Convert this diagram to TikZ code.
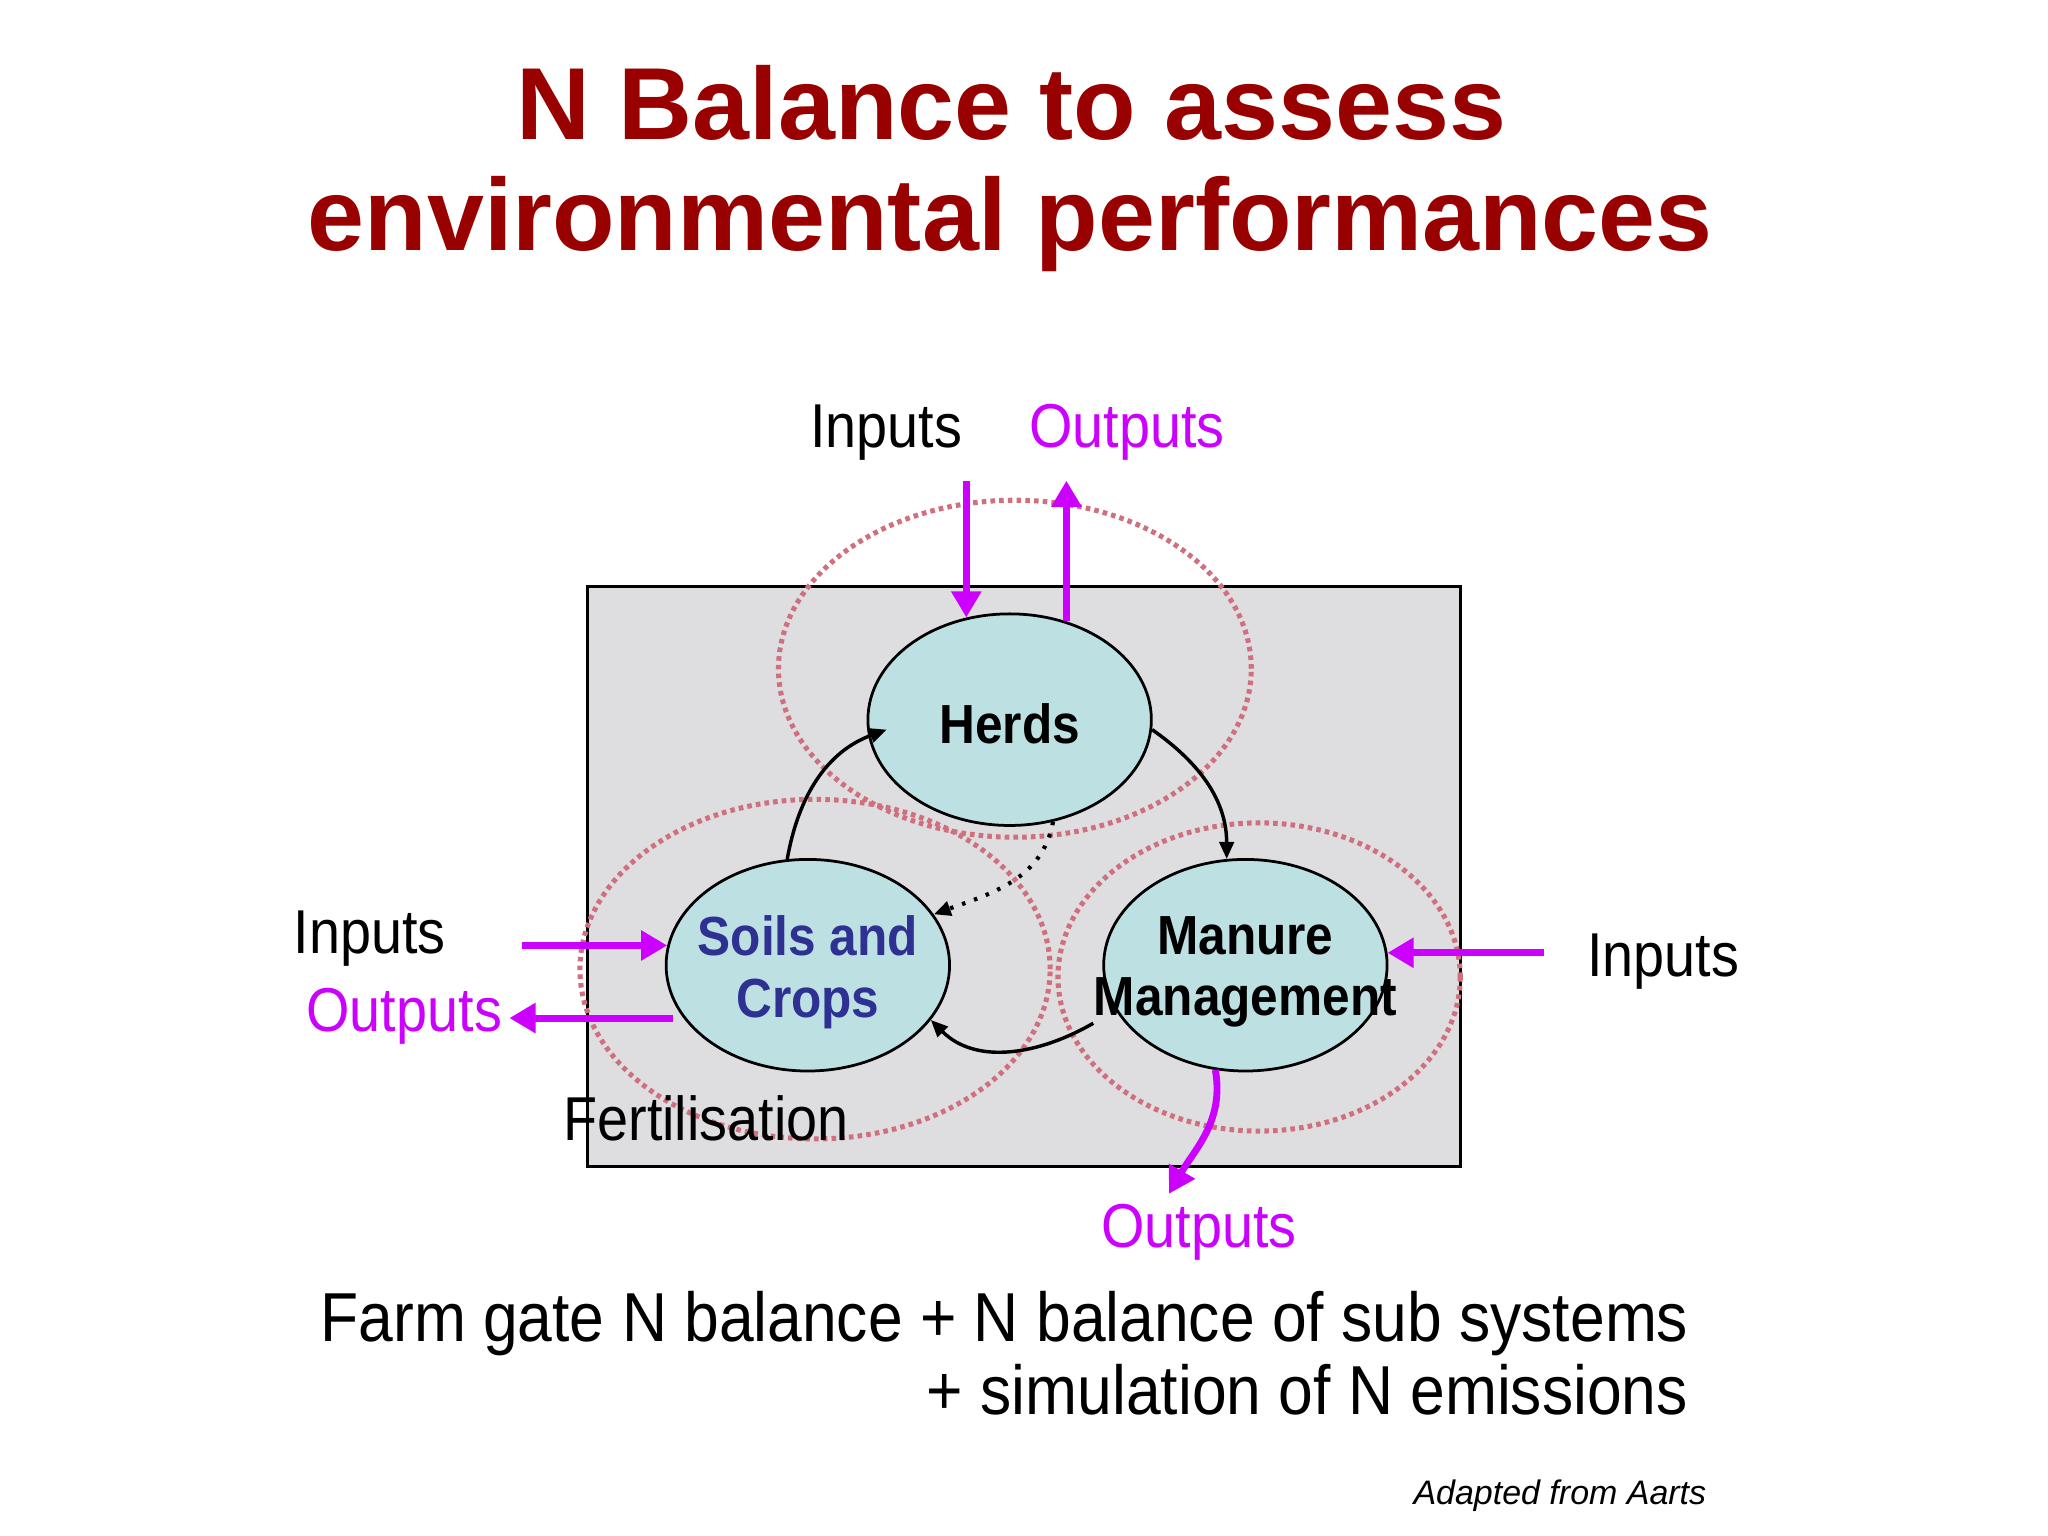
\documentclass[tikz,border=0pt]{standalone}
\usepackage{fontspec}
\setmainfont{Liberation Sans}
\newfontfamily\narrowsf[FakeStretch=0.9]{Liberation Sans}
\usepackage{xcolor}
\usepackage{tikz}
\usetikzlibrary{arrows.meta}
\usetikzlibrary{calc}
\usetikzlibrary{positioning}
\usetikzlibrary{shapes.geometric}
\definecolor{titlered}{HTML}{990000}
\definecolor{flowpink}{HTML}{CC00FF}
\definecolor{cellfill}{HTML}{BDE0E3}
\definecolor{boxgray}{HTML}{DEDDDF}
\definecolor{ringpink}{HTML}{D0707F}
\definecolor{soilsblue}{HTML}{2E3192}

\begin{document}
\begin{tikzpicture}
      \tikzset{
        unit/.style={ellipse, draw=black, line width=0.6pt, fill=cellfill,
            minimum width=2.17cm, minimum height=1.62cm, inner sep=0pt},
        unit text/.style={font=\narrowsf\bfseries\fontsize{12}{13.4}\selectfont, align=center},
        ring/.style={draw=ringpink, line width=1.1pt, dash pattern=on 1pt off 0.9pt},
        flow/.style={draw=flowpink, line width=1.5pt, -{Triangle[length=0.2cm,width=0.22cm]}},
        link/.style={line width=0.75pt, -{Triangle[length=0.13cm,width=0.11cm]}},
        tag/.style={font=\narrowsf\fontsize{13.5}{16}\selectfont, anchor=base, inner sep=0pt}
      }

      \fill[white] (0,0) rectangle (15.68,-11.76);
      \useasboundingbox (0,0) rectangle (15.68,-11.76);

      % Title
      \node[anchor=base, text=titlered, font=\bfseries\fontsize{22.3}{26}\selectfont] (T1) at (7.745,-1.07) {N Balance to assess};
      \node[anchor=base, text=titlered, font=\bfseries\fontsize{22.3}{26}\selectfont] (T2) at (7.735,-1.92) {environmental performances};

      \draw[fill=boxgray, line width=0.7pt] (4.50,-4.49) rectangle (11.18,-8.93); % farm gate

      % Sub systems
      \draw[ring] (7.77,-5.12) ellipse (1.81 and 1.29);
      \draw[ring] (6.24,-7.42) ellipse (1.80 and 1.30);
      \draw[ring] (9.64,-7.48) ellipse (1.54 and 1.18);

      \node[unit] (H) at (7.73,-5.51) {};
      \node[unit] (S) at (6.185,-7.39) {};
      \node[unit] (M) at (9.535,-7.39) {};
      \node[unit text] (Ht) at ([yshift=-1pt]H.center) {Herds};
      \node[unit text, text=soilsblue] (St) at ([yshift=-1.5pt]S.center) {Soils and\\Crops};
      \node[unit text] (Mt) at ([yshift=-1.5pt]M.center) {Manure\\Management};

      % Flows inside the farm
      \draw[link] (S.101) to[out=80, in=200] ([xshift=0.15cm]H.184);
      \draw[link] (H.-4) to[out=-35, in=90] (M.100);
      \draw[link, dotted, line width=0.9pt] (H.-67) to[out=-100, in=20] (S.22);
      \draw[link] ([shift={(-0.19,-0.07)}]M.201) to[out=-150, in=-45] (S.-24);

      % Inputs and outputs
      \coordinate (topin) at (7.39,-3.68);
      \coordinate (topout) at (8.17,-3.68);
      \coordinate (leftin) at (4.00,-7.23);
      \coordinate (leftout) at (3.90,-7.79);
      \coordinate (rightin) at (11.82,-7.30);
      \coordinate (botout) at (8.95,-9.14);

      \draw[flow] (H.113 |- topin) -- (H.113);
      \draw[flow] (H.60) -- (H.60 |- topout);
      \draw[flow] (S.172 -| leftin) -- (S.172);
      \draw[flow] ([xshift=-0.08cm]S.203) -- (S.203 -| leftout);
      \draw[flow] (M.5 -| rightin) -- (M.5);
      \draw[flow] (M.-106) to[out=-80, in=60] (botout);

      \node[tag] (inH) at (6.785,-3.43) {Inputs};
      \node[tag, text=flowpink] (outH) at (8.63,-3.43) {Outputs};
      \node[tag] (inS) at (2.83,-7.30) {Inputs};
      \node[tag, text=flowpink] (outS) at (3.095,-7.90) {Outputs};
      \node[tag] (inM) at (12.735,-7.48) {Inputs};
      \node[tag, text=flowpink] (outM) at (9.18,-9.55) {Outputs};
      \node[tag] (fert) at (5.405,-8.73) {Fertilisation};

      % Caption
      \node[anchor=base, inner sep=0pt, font=\narrowsf\fontsize{15.1}{18}\selectfont] (gate) at (7.69,-10.27) {Farm gate N balance + N balance of sub systems};
      \node[anchor=base east, inner sep=0pt, font=\narrowsf\fontsize{15.1}{18}\selectfont] (sim) at (12.93,-10.83) {+ simulation of N emissions};
      \node[anchor=base east, inner sep=0pt, font=\itshape\fontsize{7.4}{8}\selectfont] (src) at (13.07,-11.52) {Adapted from Aarts};
\end{tikzpicture}
\end{document}
